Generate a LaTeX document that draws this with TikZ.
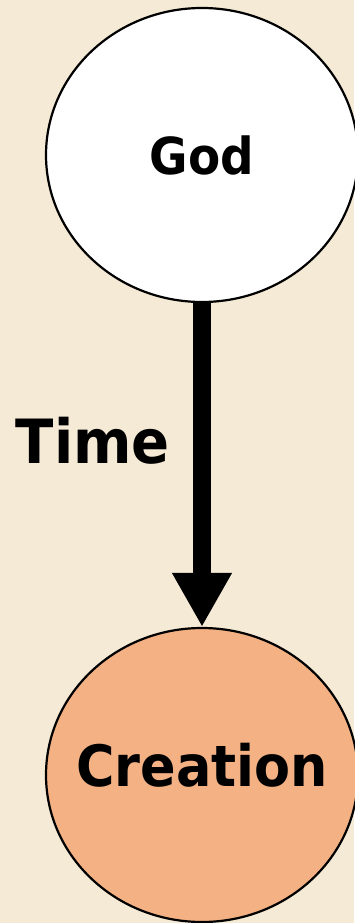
\documentclass[tikz,border=0pt]{standalone}
\usepackage{fontspec}
\usepackage{tikz}
\usetikzlibrary{arrows.meta, positioning, shapes.geometric}
\newfontfamily\labelfont{DejaVu Sans}[FakeStretch=0.92]
\definecolor{paperbg}{RGB}{245,234,213}
\definecolor{lightsalmon}{RGB}{243,177,132}

\tikzset{
  bubble/.style={ellipse, draw=black, line width=2.2pt, inner sep=0pt,
                 minimum width=312pt, minimum height=294pt,
                 font=\labelfont\bfseries},
  timearrow/.style={-{Triangle[length=54pt, width=56pt]}, line width=18pt}
}

\begin{document}
\begin{tikzpicture}[x=1pt, y=1pt]
  % Background
  \fill[paperbg] (0,0) rectangle (354,-923);
  \useasboundingbox (0,0) rectangle (354,-923);

  % Bubbles
  \node[bubble, fill=white] (god) at (202,-155)
    {\fontsize{51}{55}\selectfont God};
  \node[bubble, fill=lightsalmon, text depth=20pt] (creation) at (202,-775)
    {\fontsize{57}{61}\selectfont\makebox[0pt]{Creation}};

  % Arrow
  \draw[timearrow] (god) -- (creation)
    node[pos=0.425, left=23pt, inner sep=0pt, font=\labelfont\bfseries\fontsize{61}{65}\selectfont] (time) {Time};
\end{tikzpicture}
\end{document}
